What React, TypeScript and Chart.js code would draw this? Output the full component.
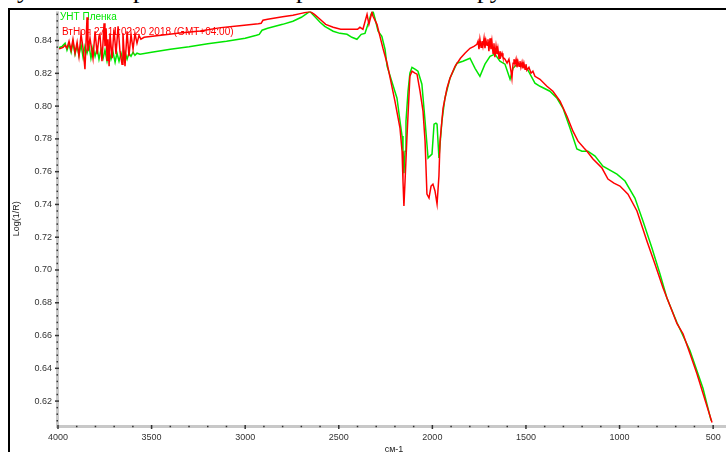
import React, { useEffect, useRef } from 'react';
import { Chart, registerables } from 'chart.js';

Chart.register(...registerables);

// ---------- data ----------
const seriesLabels = ['ВтНоя 27 11:02:20 2018 (GMT+04:00)', 'УНТ Пленка'];
const seriesColors = ['#ff0000', '#00e600'];
const xTitle = 'см-1';
const yTitle = 'Log(1/R)';
const xRange = [410, 4000];
const yRange = [0.6048, 0.8578];
const xTickValues = [4000, 3500, 3000, 2500, 2000, 1500, 1000, 500];
const yTickValues = [0.62, 0.64, 0.66, 0.68, 0.70, 0.72, 0.74, 0.76, 0.78, 0.80, 0.82, 0.84];
const xMinorStep = 100;
const yMinorStep = 0.004;

const redWavenumbers = [
  4000, 3989, 3973, 3962, 3952, 3941, 3930, 3920, 3909, 3898, 3888, 3877, 3866, 3856, 3850, 3845,
  3840, 3829, 3813, 3802, 3791, 3781, 3776, 3765, 3754, 3749, 3743, 3738, 3733, 3727, 3722, 3711,
  3701, 3690, 3679, 3669, 3658, 3653, 3642, 3631, 3621, 3610, 3599, 3589, 3578, 3567, 3557, 3540,
  3450, 3350, 3240, 3130, 3030, 2930, 2915, 2905, 2880, 2800, 2745, 2700, 2654, 2630, 2600, 2570,
  2530, 2490, 2440, 2400, 2387, 2371, 2349, 2339, 2323, 2317, 2296, 2280, 2264, 2242, 2200, 2173,
  2162, 2157, 2152, 2146, 2136, 2120, 2109, 2093, 2082, 2066, 2050, 2039, 2029, 2018, 2007, 1997,
  1986, 1975, 1965, 1959, 1943, 1922, 1906, 1879, 1850, 1826, 1799, 1778, 1762, 1756, 1751, 1746,
  1740, 1735, 1730, 1724, 1719, 1714, 1708, 1703, 1698, 1692, 1687, 1682, 1676, 1671, 1666, 1660,
  1655, 1650, 1644, 1639, 1634, 1628, 1623, 1612, 1601, 1591, 1580, 1575, 1569, 1564, 1559, 1553,
  1548, 1543, 1537, 1532, 1527, 1521, 1516, 1511, 1505, 1500, 1495, 1484, 1473, 1463, 1452, 1425,
  1388, 1356, 1318, 1281, 1249, 1222, 1190, 1174, 1142, 1094, 1062, 1030, 998, 955, 907, 854,
  811, 768, 741, 693, 661, 624, 587, 554, 506,
];
const redValues = [
  0.8350, 0.8352, 0.8358, 0.8371, 0.8353, 0.8396, 0.8341, 0.8408, 0.8323, 0.8390, 0.8304, 0.8438, 0.8353, 0.8225, 0.8396, 0.8542,
  0.8335, 0.8414, 0.8292, 0.8457, 0.8317, 0.8426, 0.8438, 0.8274, 0.8505, 0.8365, 0.8475, 0.8280, 0.8408, 0.8243, 0.8444, 0.8292,
  0.8469, 0.8317, 0.8487, 0.8335, 0.8256, 0.8444, 0.8243, 0.8457, 0.8304, 0.8438, 0.8347, 0.8444, 0.8384, 0.8432, 0.8408, 0.8420,
  0.8433, 0.8446, 0.8459, 0.8479, 0.8491, 0.8502, 0.8505, 0.8524, 0.8530, 0.8545, 0.8554, 0.8566, 0.8578, 0.8560, 0.8530, 0.8499,
  0.8481, 0.8469, 0.8469, 0.8469, 0.8481, 0.8469, 0.8560, 0.8499, 0.8572, 0.8548, 0.8499, 0.8426, 0.8353, 0.8262, 0.8030, 0.7866,
  0.7725, 0.7543, 0.7390, 0.7543, 0.7805, 0.8182, 0.8213, 0.8201, 0.8195, 0.8091, 0.7969, 0.7786, 0.7463, 0.7439, 0.7512, 0.7524,
  0.7482, 0.7402, 0.7573, 0.7786, 0.7987, 0.8109, 0.8170, 0.8243, 0.8292, 0.8323, 0.8353, 0.8365, 0.8377, 0.8396, 0.8347, 0.8408,
  0.8359, 0.8396, 0.8365, 0.8414, 0.8353, 0.8402, 0.8371, 0.8408, 0.8335, 0.8414, 0.8347, 0.8396, 0.8323, 0.8384, 0.8298, 0.8365,
  0.8317, 0.8353, 0.8292, 0.8335, 0.8304, 0.8323, 0.8298, 0.8286, 0.8262, 0.8286, 0.8213, 0.8170, 0.8262, 0.8286, 0.8256, 0.8286,
  0.8237, 0.8274, 0.8243, 0.8274, 0.8237, 0.8268, 0.8231, 0.8262, 0.8225, 0.8256, 0.8219, 0.8237, 0.8201, 0.8213, 0.8182, 0.8164,
  0.8121, 0.8091, 0.8030, 0.7938, 0.7847, 0.7786, 0.7744, 0.7725, 0.7677, 0.7622, 0.7555, 0.7530, 0.7512, 0.7463, 0.7360, 0.7177,
  0.7036, 0.6892, 0.6812, 0.6672, 0.6611, 0.6490, 0.6368, 0.6246, 0.6069,
];

const greenWavenumbers = [
  4000, 3989, 3978, 3962, 3952, 3941, 3930, 3920, 3909, 3898, 3888, 3877, 3866, 3856, 3845, 3834,
  3824, 3813, 3802, 3791, 3781, 3770, 3759, 3749, 3738, 3727, 3717, 3706, 3695, 3685, 3674, 3663,
  3653, 3642, 3631, 3621, 3610, 3599, 3589, 3578, 3562, 3500, 3400, 3300, 3200, 3100, 3000, 2940,
  2925, 2910, 2880, 2800, 2745, 2700, 2654, 2630, 2600, 2575, 2530, 2494, 2456, 2430, 2403, 2380,
  2360, 2344, 2328, 2317, 2307, 2290, 2270, 2253, 2242, 2189, 2173, 2162, 2157, 2152, 2146, 2141,
  2130, 2120, 2109, 2093, 2077, 2056, 2039, 2023, 2013, 2002, 1991, 1981, 1975, 1965, 1949, 1933,
  1906, 1869, 1837, 1799, 1772, 1746, 1719, 1692, 1666, 1639, 1612, 1585, 1569, 1543, 1495, 1452,
  1425, 1372, 1334, 1302, 1265, 1228, 1201, 1169, 1131, 1089, 1014, 971, 918, 875, 827, 784,
  747, 693, 624, 554, 511,
];
const greenValues = [
  0.8353, 0.8359, 0.8365, 0.8384, 0.8341, 0.8377, 0.8329, 0.8390, 0.8317, 0.8371, 0.8310, 0.8377, 0.8298, 0.8365, 0.8323, 0.8371,
  0.8292, 0.8359, 0.8304, 0.8353, 0.8286, 0.8347, 0.8292, 0.8341, 0.8274, 0.8335, 0.8286, 0.8329, 0.8268, 0.8323, 0.8274, 0.8323,
  0.8280, 0.8329, 0.8286, 0.8323, 0.8304, 0.8329, 0.8310, 0.8323, 0.8317, 0.8329, 0.8347, 0.8362, 0.8381, 0.8396, 0.8414, 0.8432,
  0.8438, 0.8463, 0.8475, 0.8499, 0.8518, 0.8542, 0.8578, 0.8548, 0.8512, 0.8487, 0.8457, 0.8444, 0.8438, 0.8420, 0.8408, 0.8438,
  0.8444, 0.8499, 0.8560, 0.8578, 0.8536, 0.8457, 0.8426, 0.8347, 0.8244, 0.8048, 0.7908, 0.7817, 0.7725, 0.7591, 0.7725, 0.7908,
  0.8091, 0.8201, 0.8237, 0.8225, 0.8213, 0.8134, 0.7908, 0.7683, 0.7695, 0.7707, 0.7890, 0.7896, 0.7890, 0.7683, 0.7908, 0.8048,
  0.8170, 0.8262, 0.8274, 0.8292, 0.8231, 0.8182, 0.8256, 0.8304, 0.8317, 0.8274, 0.8256, 0.8164, 0.8231, 0.8262, 0.8231, 0.8140,
  0.8121, 0.8091, 0.8048, 0.7987, 0.7866, 0.7738, 0.7725, 0.7725, 0.7695, 0.7634, 0.7585, 0.7543, 0.7439, 0.7299, 0.7134, 0.6975,
  0.6829, 0.6678, 0.6508, 0.6277, 0.6081,
];

const headerGlyphs = [
  { text: 'у', left: 17 },
  { text: 'р', left: 133 },
  { text: 'р', left: 296 },
  { text: 'ру', left: 477 },
];

const FONT = '"Liberation Sans", Arial, sans-serif';

const decoPlugin = {
  id: 'deco',
  beforeDatasetsDraw(chart: any) {
    const { ctx, chartArea: a } = chart;
    ctx.save();
    ctx.font = `10px ${FONT}`;
    ctx.textBaseline = 'middle';
    ctx.textAlign = 'left';
    ctx.fillStyle = seriesColors[1];
    ctx.fillText(seriesLabels[1], a.left + 2, a.top + 6);
    ctx.fillStyle = seriesColors[0];
    ctx.fillText(seriesLabels[0], a.left + 4, a.top + 21);
    ctx.restore();
  },
  afterDatasetsDraw(chart: any) {
    const { ctx, chartArea: a, scales } = chart;
    const xs = scales.x;
    const ys = scales.y;
    ctx.save();
    ctx.fillStyle = '#c8c8c8';
    ctx.fillRect(a.left - 2, a.top, 3, a.bottom - a.top + 1);
    ctx.fillRect(a.left - 2, a.bottom - 1, a.right - a.left + 2, 3);
    ctx.fillStyle = '#333';
    const yStart = Math.ceil(yRange[0] / yMinorStep) * yMinorStep;
    for (let v = yStart; v <= yRange[1]; v += yMinorStep) {
      const py = ys.getPixelForValue(v);
      const major = yTickValues.some((t) => Math.abs(t - v) < 1e-6);
      if (major) ctx.fillRect(a.left - 3, py - 0.75, 4, 1.5);
      else ctx.fillRect(a.left - 1.5, py - 0.75, 1.5, 1.5);
    }
    const xStart = Math.ceil(xRange[0] / xMinorStep) * xMinorStep;
    for (let v = xStart; v <= xRange[1]; v += xMinorStep) {
      const px = xs.getPixelForValue(v);
      const major = xTickValues.includes(v);
      if (major) ctx.fillRect(px - 0.75, a.bottom - 1, 1.5, 4);
      else ctx.fillRect(px - 0.75, a.bottom - 0.25, 1.5, 1.5);
    }
    ctx.restore();
  },
};

export default function App() {
  const ref = useRef<HTMLCanvasElement | null>(null);
  useEffect(() => {
    document.body.style.overflow = 'hidden';
    document.documentElement.style.overflow = 'hidden';
    if (!ref.current) return;
    const red = redWavenumbers.map((w, i) => ({ x: w, y: redValues[i] }));
    const green = greenWavenumbers.map((w, i) => ({ x: w, y: greenValues[i] }));
    const chart = new Chart(ref.current, {
      type: 'line',
      data: {
        datasets: [
          { label: seriesLabels[0], data: red, borderColor: seriesColors[0], borderWidth: 1.5, pointRadius: 0, tension: 0, fill: false },
          { label: seriesLabels[1], data: green, borderColor: seriesColors[1], borderWidth: 1.5, pointRadius: 0, tension: 0, fill: false },
        ],
      },
      options: {
        animation: false,
        responsive: false,
        events: [],
        layout: { padding: { left: 10, top: 10, right: 30, bottom: 15 } },
        plugins: { legend: { display: false }, tooltip: { enabled: false } },
        scales: {
          x: {
            type: 'linear',
            reverse: true,
            min: xRange[0],
            max: xRange[1],
            grid: { display: false, drawTicks: false },
            border: { display: false },
            afterFit: (s: any) => { s.height = 29; },
            afterBuildTicks: (s: any) => { s.ticks = xTickValues.map((v) => ({ value: v })); },
            ticks: {
              autoSkip: false,
              maxRotation: 0,
              padding: 6,
              color: '#333',
              font: { family: FONT, size: 9 },
              callback: (v: any) => String(v),
            },
            title: { display: true, text: xTitle, color: '#222', font: { family: FONT, size: 9 }, padding: 0 },
          },
          y: {
            type: 'linear',
            min: yRange[0],
            max: yRange[1],
            grid: { display: false, drawTicks: false },
            border: { display: false },
            afterFit: (s: any) => { s.width = 48; },
            afterBuildTicks: (s: any) => { s.ticks = yTickValues.map((v) => ({ value: v })); },
            ticks: {
              autoSkip: false,
              padding: 6,
              color: '#333',
              font: { family: FONT, size: 9 },
              callback: (v: any) => Number(v).toFixed(2),
            },
            title: { display: true, text: yTitle, color: '#222', font: { family: FONT, size: 9 }, padding: { top: 1, bottom: 0 } },
          },
        },
      },
      plugins: [decoPlugin],
    });
    return () => chart.destroy();
  }, []);

  return (
    <div style={{ position: 'fixed', left: 0, top: 0, width: 726, height: 452, overflow: 'hidden', background: '#fff' }}>
      {headerGlyphs.map((g, i) => (
        <span
          key={i}
          style={{
            position: 'absolute',
            left: g.left,
            top: -23,
            fontFamily: '"Liberation Serif", "Times New Roman", serif',
            fontSize: 26,
            lineHeight: '26px',
            color: '#000',
            whiteSpace: 'pre',
          }}
        >
          {g.text}
        </span>
      ))}
      <div
        style={{
          position: 'absolute',
          left: 8,
          top: 8,
          width: 800,
          height: 500,
          border: '2px solid #000',
          boxSizing: 'border-box',
        }}
      />
      <canvas ref={ref} width={760} height={470} style={{ position: 'absolute', left: 0, top: 0, width: 760, height: 470 }} />
    </div>
  );
}
